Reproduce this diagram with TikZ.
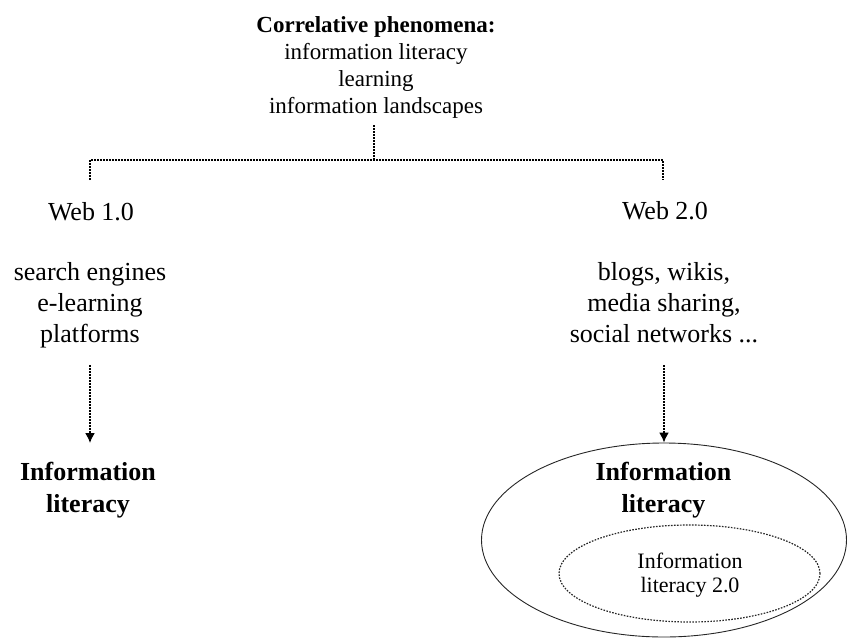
\documentclass[tikz,border=0pt]{standalone}
\usepackage{fontspec}
\setmainfont{Liberation Serif}
\usetikzlibrary{arrows.meta}
\usetikzlibrary{shapes.geometric}

\tikzset{
  tree/.style={line width=0.8pt, dash pattern=on 0.8pt off 0.7pt},
  flow/.style={tree, -{Latex[length=5pt,width=5pt]}},
  label/.style={inner sep=0pt, align=center, text=black},
  small/.style={label, font=\fontsize{11.5}{13.5}\selectfont},
  big/.style={label, font=\fontsize{13}{15.5}\selectfont},
  head/.style={label, font=\fontsize{13}{16}\selectfont\bfseries},
  tiny/.style={label, font=\fontsize{11}{12}\selectfont}
}

\begin{document}
\begin{tikzpicture}[x=0.5pt,y=-0.5pt]
  \useasboundingbox (0,0) rectangle (848,639);

  \node[ellipse, draw=black!85, line width=0.45pt, inner sep=0pt,
        minimum width=182.5pt, minimum height=97pt] (ell) at (664,540) {};
  \node[ellipse, draw=black!85, tree, line width=0.6pt, inner sep=0pt,
        minimum width=130.5pt, minimum height=48.5pt] (inell) at (689.5,573.5) {};

  \node[small, anchor=north] (phen) at (376,16)
    {\textbf{Correlative phenomena:}\\information literacy\\learning\\information landscapes};

  \node[big, anchor=base] (web1) at (91,220) {Web 1.0};
  \node[big, anchor=base] (web2) at (665,219) {Web 2.0};

  \node[big, anchor=north] (tools1) at (90,262) {search engines\\e-learning\\platforms};
  \node[big, anchor=north] (tools2) at (664,262) {blogs, wikis,\\media sharing,\\social networks ...};

  \node[head, anchor=north] (lit1) at (88,462) {Information\\literacy};
  \node[head, anchor=north] (lit2) at (663.5,462) {Information\\literacy};
  \node[tiny, anchor=north] (lit3) at (690,553) {Information\\literacy 2.0};

  \coordinate (stem) at (374,125);
  \coordinate (split) at (374,160);
  \coordinate (lcorner) at (90,160);
  \coordinate (rcorner) at (663,160);
  \coordinate (lend) at (90,180);
  \coordinate (rend) at (663,180);
  \draw[tree] (stem) -- (split);
  \draw[tree] (lend) -- (lcorner) -- (rcorner) -- (rend);

  \coordinate (a1) at (90,365);
  \coordinate (b1) at (90,443);
  \coordinate (a2) at (664,365);
  \draw[flow] (a1) -- (b1);
  \draw[flow] (a2) -- (ell.north);

\end{tikzpicture}
\end{document}
